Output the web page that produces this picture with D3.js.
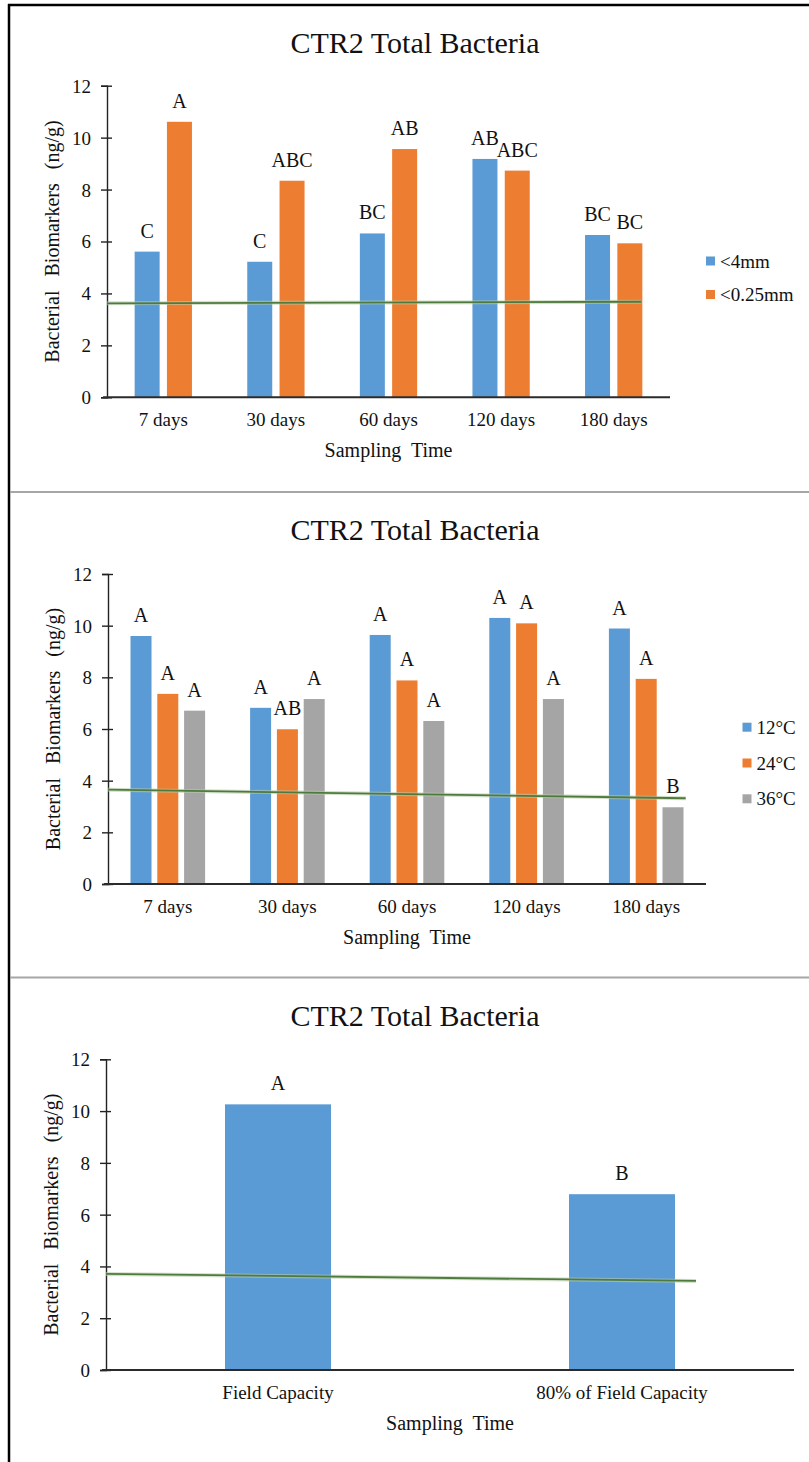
<html>
  <head>
    <script src="https://d3js.org/d3.v7.min.js"></script>
    <style>
      body { margin: 0; background: white; }
      svg text { font-family: "Liberation Serif", "Times New Roman", serif; fill: #111; }
      .title { font-size: 30px; }
      .axis-title { font-size: 20px; }
      .x-title { word-spacing: 5px; }
      .y-title { word-spacing: 9px; }
      .tick text { font-size: 19px; }
      .letter { font-size: 20px; }
      .legend text { font-size: 19px; }
    </style>
  </head>
  <body>
    <svg id="chart" width="809" height="1462" font-family="Liberation Serif, Times New Roman, serif"></svg>
    <script>
      // --- data ---
      var titleText = "CTR2 Total Bacteria";
      var yTicks = [0, 2, 4, 6, 8, 10, 12];

      // panel 1: sieve size
      var days = ["7 days", "30 days", "60 days", "120 days", "180 days"];
      var sizeSeries = ["<4mm", "<0.25mm"];
      var size4mm = [5.61, 5.22, 6.31, 9.18, 6.25];
      var size025mm = [10.61, 8.34, 9.56, 8.73, 5.93];
      var letters4mm = ["C", "C", "BC", "AB", "BC"];
      var letters025mm = ["A", "ABC", "AB", "ABC", "BC"];
      var trendSize = [3.62, 3.68];

      // panel 2: temperature
      var tempSeries = ["12°C", "24°C", "36°C"];
      var temp12 = [9.60, 6.82, 9.64, 10.30, 9.89];
      var temp24 = [7.36, 5.99, 7.88, 10.09, 7.94];
      var temp36 = [6.71, 7.16, 6.31, 7.16, 2.97];
      var letters12 = ["A", "A", "A", "A", "A"];
      var letters24 = ["A", "AB", "A", "A", "A"];
      var letters36 = ["A", "A", "A", "A", "B"];
      var trendTemp = [3.65, 3.32];

      // panel 3: moisture
      var moistureCats = ["Field Capacity", "80% of Field Capacity"];
      var moistureSeries = ["moisture"];
      var moisture = [10.26, 6.79];
      var moistureLetters = ["A", "B"];
      var trendMoisture = [3.71, 3.44];

      var colors = ["#5b9bd5", "#ed7d31", "#a5a5a5"];
      var serif = "Liberation Serif, Times New Roman, serif";

      var svg = d3.select("#chart");

      // frame: top and left border, grey separators
      svg.append("line").attr("x1", 8).attr("x2", 809).attr("y1", 5).attr("y2", 5)
        .attr("stroke", "#000").attr("stroke-width", 2.5);
      svg.append("line").attr("x1", 9).attr("x2", 9).attr("y1", 4).attr("y2", 1462)
        .attr("stroke", "#000").attr("stroke-width", 2.5);
      [492, 977.5].forEach(function(yy) {
        svg.append("line").attr("x1", 10).attr("x2", 809).attr("y1", yy).attr("y2", yy)
          .attr("stroke", "#a6a6a6").attr("stroke-width", 2);
      });

      function drawPanel(p) {
        var g = svg.append("g").attr("font-family", serif);

        var x = d3.scaleBand().domain(p.cats).range([p.left, p.right]).padding(0);
        var y = d3.scaleLinear().domain([0, 12]).range([p.bottom, p.top]);

        var inner = d3.scaleBand().domain(p.series)
          .range([-p.groupW / 2, p.groupW / 2])
          .paddingInner(p.innerPad).paddingOuter(0);

        g.append("text").attr("class", "title")
          .attr("x", 415).attr("y", p.titleY)
          .attr("text-anchor", "middle").text(titleText);

        // y axis
        var yAxis = d3.axisLeft(y).tickValues(yTicks).tickSizeOuter(0).tickSize(6).tickPadding(10);
        var gy = g.append("g").attr("transform", "translate(" + p.left + ",0)").call(yAxis)
          .attr("font-family", serif).attr("font-size", 19);
        gy.select(".domain").attr("stroke", "#222").attr("stroke-width", 1.4);
        gy.selectAll(".tick line").attr("x1", 5).attr("stroke", "#222").attr("stroke-width", 1.4);
        gy.selectAll(".tick text").attr("dy", "0.34em");

        // bars and significance letters
        p.values.forEach(function(vals, si) {
          g.append("g").selectAll("rect").data(vals).enter().append("rect")
            .attr("x", function(d, i) { return x(p.cats[i]) + x.bandwidth() / 2 + inner(p.series[si]); })
            .attr("width", inner.bandwidth())
            .attr("y", function(d) { return y(d); })
            .attr("height", function(d) { return y(0) - y(d); })
            .attr("fill", colors[si]);

          g.append("g").selectAll("text").data(vals).enter().append("text")
            .attr("class", "letter")
            .attr("x", function(d, i) { return x(p.cats[i]) + x.bandwidth() / 2 + inner(p.series[si]) + inner.bandwidth() / 2; })
            .attr("y", function(d) { return y(d) - 14; })
            .attr("text-anchor", "middle")
            .text(function(d, i) { return p.letters[si][i]; });
        });

        // x axis
        var xAxis = d3.axisBottom(x).tickSize(0);
        var gx = g.append("g").attr("transform", "translate(0," + y(0) + ")").call(xAxis)
          .attr("font-family", serif).attr("font-size", 19);
        gx.select(".domain").remove();
        gx.selectAll(".tick text").attr("y", 29).attr("dy", 0);
        g.append("line")
          .attr("x1", p.left - 4).attr("x2", p.right)
          .attr("y1", y(0)).attr("y2", y(0))
          .attr("stroke", "#2b2b2b").attr("stroke-width", 2);

        // trend line
        var tx0 = x.range()[0];
        var tx1 = x(p.cats[p.cats.length - 1]) + x.bandwidth() / 2 + x.bandwidth() * p.trendEnd;
        var line = d3.line().x(function(d, i) { return i === 0 ? tx0 : tx1; }).y(function(d) { return y(d); });
        g.append("path").datum(p.trend).attr("d", line)
          .attr("fill", "none").attr("stroke", "#b7cbaa").attr("stroke-width", 4).attr("opacity", 0.6);
        g.append("path").datum(p.trend).attr("d", line)
          .attr("fill", "none").attr("stroke", "#4f7a3d").attr("stroke-width", 1.8);

        // axis titles
        g.append("text").attr("class", "axis-title x-title")
          .attr("x", (p.left + p.right) / 2).attr("y", y(0) + 60)
          .attr("text-anchor", "middle").text("Sampling Time");
        g.append("text").attr("class", "axis-title y-title")
          .attr("transform", "translate(" + (p.left - 48) + "," + ((p.top + p.bottom) / 2) + ") rotate(-90)")
          .attr("text-anchor", "middle").text("Bacterial Biomarkers (ng/g)");

        // legend
        if (p.legend) {
          var lg = g.append("g").attr("class", "legend");
          p.series.forEach(function(s, si) {
            var ly = p.legendY + si * p.legendStep;
            lg.append("rect").attr("x", p.legendX).attr("y", ly)
              .attr("width", 9).attr("height", 9).attr("fill", colors[si]);
            lg.append("text").attr("x", p.legendX + 14).attr("y", ly + 11).text(s);
          });
        }
      }

      drawPanel({
        cats: days, series: sizeSeries, values: [size4mm, size025mm],
        letters: [letters4mm, letters025mm], trend: trendSize, trendEnd: 0.245,
        left: 107, right: 670, top: 85.7, bottom: 397.3, titleY: 53,
        groupW: 57.3, innerPad: 0.226,
        legend: true, legendX: 706, legendY: 256.5, legendStep: 33.5
      });

      drawPanel({
        cats: days, series: tempSeries, values: [temp12, temp24, temp36],
        letters: [letters12, letters24, letters36], trend: trendTemp, trendEnd: 0.33,
        left: 108, right: 706, top: 574, bottom: 884, titleY: 540,
        groupW: 74.6, innerPad: 0.216,
        legend: true, legendX: 742.5, legendY: 722.7, legendStep: 35.8
      });

      drawPanel({
        cats: moistureCats, series: moistureSeries, values: [moisture],
        letters: [moistureLetters], trend: trendMoisture, trendEnd: 0.215,
        left: 106, right: 794, top: 1059.3, bottom: 1370, titleY: 1026,
        groupW: 106, innerPad: 0,
        legend: false
      });
    </script>
  </body>
</html>
